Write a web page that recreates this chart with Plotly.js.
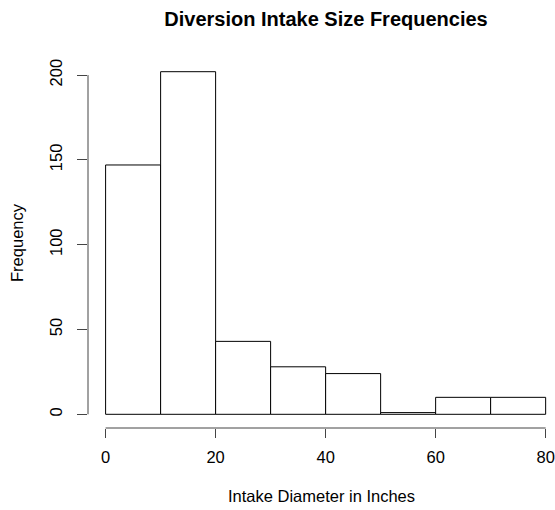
<!DOCTYPE html>
<html>
<head>
<meta charset="utf-8">
<script src="https://cdn.plot.ly/plotly-3.0.1.min.js"></script>
<style>html,body{margin:0;padding:0;background:#fff;}#chart{width:555px;height:510px;}</style>
</head>
<body>
<div id="chart"></div>
<script>
// Histogram bins (inches) and counts
var binStart = [0, 10, 20, 30, 40, 50, 60, 70];
var binWidth = 10;
var counts = [147, 202, 43, 28, 24, 1, 10, 10];
var xTicks = [0, 20, 40, 60, 80];
var yTicks = [0, 50, 100, 150, 200];

var centers = binStart.map(function (b) { return b + binWidth / 2; });

var font = "Liberation Sans, Arial, Helvetica, sans-serif";
var fs = 16.5;

var trace = {
  type: "bar",
  x: centers,
  y: counts,
  width: binStart.map(function () { return binWidth; }),
  marker: { color: "#ffffff", line: { color: "#000000", width: 1 } },
  hoverinfo: "x+y"
};

var xMin = xTicks[0], xMax = xTicks[xTicks.length - 1];
var yMin = yTicks[0], yMax = yTicks[yTicks.length - 1];

var layout = {
  width: 555,
  height: 510,
  margin: { l: 88, r: 0, t: 58, b: 82 },
  paper_bgcolor: "#ffffff",
  plot_bgcolor: "#ffffff",
  showlegend: false,
  font: { family: font, color: "#000000", size: fs },
  title: {
    text: "<b>Diversion Intake Size Frequencies</b>",
    font: { family: font, size: 20, color: "#000000" },
    xref: "container", x: 326 / 555, xanchor: "center",
    yref: "container", y: 1 - 19 / 510, yanchor: "middle"
  },
  xaxis: {
    range: [-3.2, 81.7],
    showgrid: false, zeroline: false, showline: false,
    tickvals: xTicks, ticks: "outside", ticklen: 9, tickwidth: 1, tickcolor: "#444",
    ticklabelstandoff: 5,
    tickfont: { family: font, size: fs, color: "#000" },
    title: { text: "Intake Diameter in Inches", font: { family: font, size: fs, color: "#000" }, standoff: 25 },
    automargin: false, fixedrange: true
  },
  yaxis: {
    range: [-8.08, 210.08],
    showgrid: false, zeroline: false, showline: false,
    tickvals: yTicks, ticks: "outside", ticklen: 10, tickwidth: 1, tickcolor: "#444",
    tickangle: -90,
    ticklabelstandoff: 8,
    tickfont: { family: font, size: fs, color: "#000" },
    title: { text: "Frequency", font: { family: font, size: fs, color: "#000" }, standoff: 19 },
    automargin: false, fixedrange: true
  },
  shapes: [
    { type: "line", xref: "x", yref: "paper", x0: xMin, x1: xMax, y0: 0, y1: 0, line: { color: "#444", width: 1 } },
    { type: "line", xref: "paper", yref: "y", x0: 0, x1: 0, y0: yMin, y1: yMax, line: { color: "#444", width: 1 } }
  ]
};

Plotly.newPlot("chart", [trace], layout, { displayModeBar: false, staticPlot: true });
</script>
</body>
</html>
